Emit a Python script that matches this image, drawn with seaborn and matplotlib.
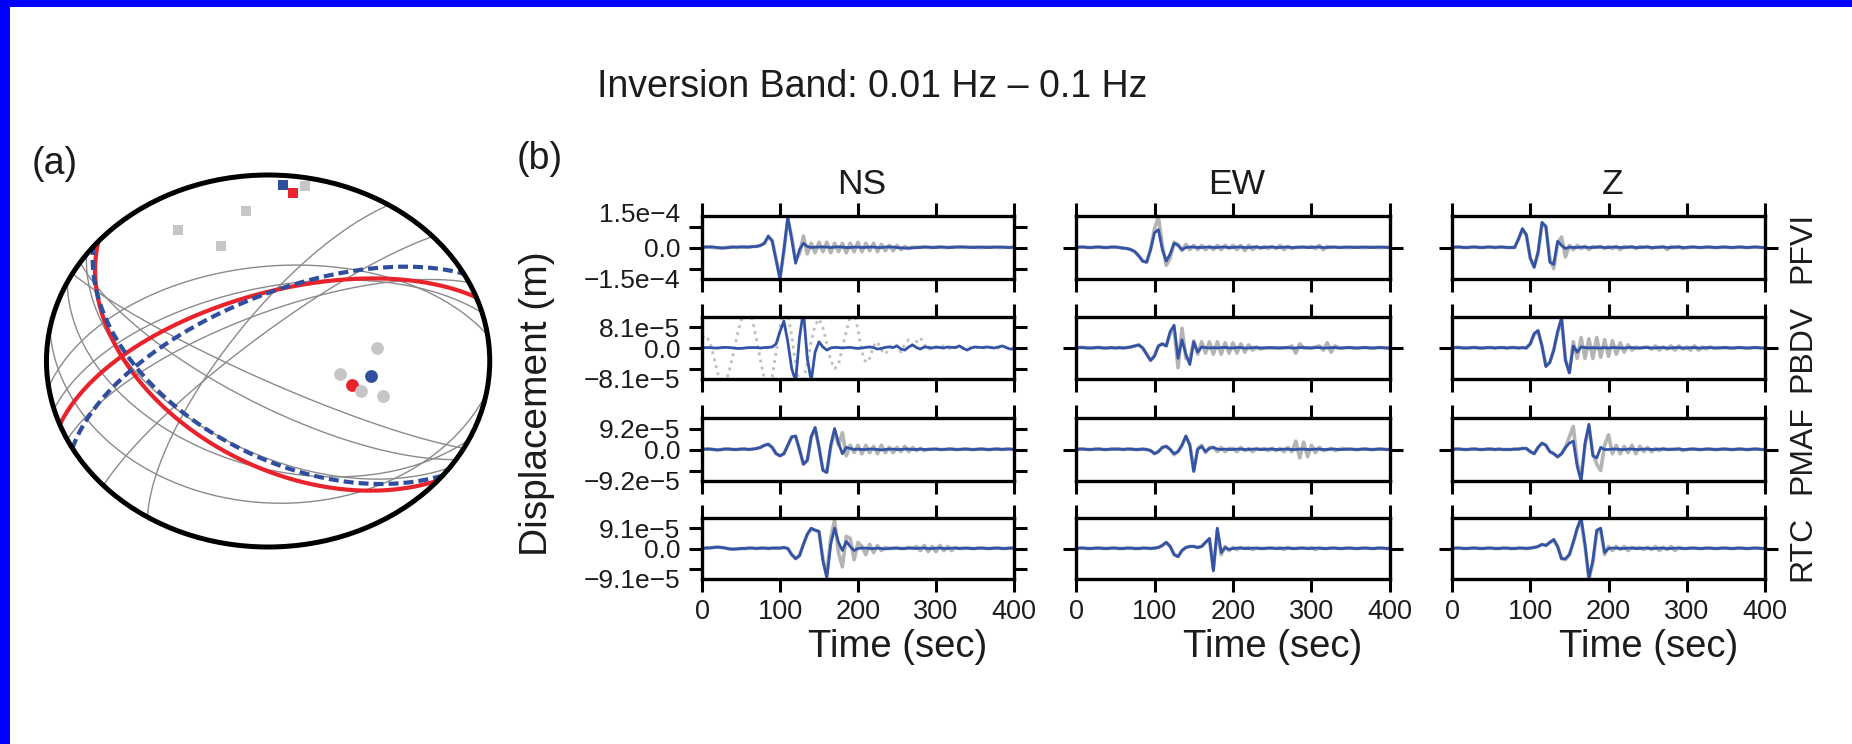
import numpy as np
import matplotlib
matplotlib.use("Agg")
import matplotlib.pyplot as plt
import seaborn as sns
from matplotlib.patches import Rectangle, Circle

sns.set_theme(style="ticks")
plt.rcParams["font.family"] = ["Liberation Sans", "DejaVu Sans"]
plt.rcParams["axes.unicode_minus"] = True

# ---------------------------------------------------------------- data
stations = ["PFVI", "PBDV", "PMAF", "RTC"]
components = ["NS", "EW", "Z"]
amplitudes = [1.5e-4, 8.1e-5, 9.2e-5, 9.1e-5]
amp_labels = ["1.5e\u22124", "8.1e\u22125", "9.2e\u22125", "9.1e\u22125"]
time_ticks = [0, 100, 200, 300, 400]
SAMPLE_STEP = 5  # s, traces sampled every 5 s from 0 to 400 s

# traces in units of the station amplitude (observed = grey, synthetic = blue)
PFVI_NS_SYN = [0, 0.02, 0.03, 0.02, 0, -0.02, -0.02, 0, 0.02, 0.02,
               0.03, 0.02, 0.02, 0.04, 0.05, 0.1, 0.2, 0.55, 0.3, -0.6,
               -1.5, -0.1, 1.45, 0.4, -0.75, -0.1, 0.2, 0.05, 0, 0.02,
               0.02, 0.03, 0.02, 0, 0.02, 0.03, 0.02, 0, 0, 0.02,
               0.02, 0, 0.01, 0.02, 0.02, 0, 0, 0.02, 0.03, 0.02,
               0, -0.02, -0.03, -0.03, -0.02, 0, 0, 0.02, 0.02, 0,
               0, 0.02, 0.02, 0, 0, 0.02, 0.02, 0.03, 0.02, 0,
               0, 0.02, 0.02, 0, 0, 0.02, 0.02, 0.02, 0, 0,
               0.02]
PFVI_NS_OBS = [0, 0.03, 0.02, 0, -0.02, -0.03, 0, 0.02, 0.03, 0,
               0.02, 0.03, 0.02, 0.05, 0.05, 0.1, 0.2, 0.5, 0.35, -0.55,
               -1.45, -0.2, 1.35, 0.5, -0.6, -0.3, 0.55, -0.3, 0.2, -0.25,
               0.25, -0.2, 0.25, -0.25, 0.2, -0.2, 0.2, -0.25, 0.2, -0.2,
               0.25, -0.2, 0.2, -0.15, 0.2, -0.2, 0.15, -0.15, 0.1, -0.15,
               0.1, -0.1, 0.05, -0.05, 0.02, 0, 0.02, 0.03, 0, 0,
               0.02, 0.03, 0, 0, 0.02, 0.02, 0.03, 0, 0, 0.02,
               0.02, 0, 0, 0.02, 0.03, 0.02, 0, 0, 0.02, 0,
               0.02]
PBDV_NS_SYN = [0, 0.02, 0.02, 0, 0, 0.02, 0.03, 0.02, 0, -0.02,
               -0.02, 0, 0.02, 0.02, 0.02, 0, 0.02, 0.03, 0.05, 0.2,
               0.8, 1.3, 0.3, -1.0, -1.6, 0.5, 1.8, -0.5, -1.6, -0.2,
               0.3, 0.05, -0.1, 0, 0.03, 0.02, 0, 0.02, 0.03, 0,
               -0.02, 0, 0.03, 0.05, 0.02, -0.05, -0.02, 0.03, 0.05, 0.02,
               0.1, -0.05, -0.1, 0.05, 0.15, 0.02, -0.05, 0.05, 0.03, 0,
               0.05, 0.02, 0, 0.05, 0.03, 0.02, 0.1, -0.02, -0.1, 0,
               0.05, 0.03, 0.02, 0.05, 0.02, 0, 0.05, 0.1, 0.02, -0.05,
               -0.05]
PBDV_NS_OBS = [0.5, 0.6, 0.3, -0.4, -1.2, -1.7, -1.7, -1.1, -0.3, 0.6,
               1.3, 1.8, 1.8, 1.3, 0.4, -0.6, -1.5, -1.8, -1.4, -0.2,
               1.0, 1.7, 1.6, 0.6, -0.8, -1.7, -1.6, -0.7, 0.3, 1.1,
               1.4, 1.0, 0.2, -0.6, -1.0, -0.8, 0.0, 0.8, 1.5, 1.7,
               0.9, -0.2, -0.7, -0.5, 0.1, 0.3, -0.1, -0.3, 0.0, 0.2,
               0.1, -0.2, 0.2, 0.4, 0.1, 0.3, 0.5, 0.2, -0.1, 0.05,
               0, 0.05, 0.1, 0, -0.05, 0.05, 0, 0, 0.05, 0,
               0, 0.05, 0, 0, 0.05, 0, 0, 0, 0.05, 0,
               0]
PMAF_NS_SYN = [0, 0.02, 0.02, 0, -0.02, 0, 0.02, 0.02, 0, 0,
               0.02, 0.02, 0, 0.02, 0.05, 0.1, 0.2, 0.25, 0.1, -0.2,
               -0.3, -0.2, 0.2, 0.6, 0.65, 0, -0.7, -0.5, 0.6, 1.05,
               0.1, -1.0, -1.1, 0.2, 1.0, 0.3, -0.2, 0.1, 0.05, 0,
               0.02, 0, 0, 0.02, 0.02, 0, -0.02, 0, 0.02, 0.02,
               0, 0, 0.02, 0.02, 0, 0, 0.02, 0, 0, 0.02,
               0.02, 0, 0, 0.02, 0.02, 0, 0, 0.02, 0.02, 0,
               0, 0.02, 0.02, 0, 0, 0.02, 0.02, 0, 0.02, 0.02,
               0]
PMAF_NS_OBS = [0, 0.03, 0.02, 0, -0.02, 0, 0.03, 0.02, 0, 0,
               0.02, 0.03, 0, 0.02, 0.05, 0.1, 0.2, 0.25, 0.1, -0.2,
               -0.3, -0.2, 0.2, 0.6, 0.6, 0, -0.7, -0.55, 0.6, 1.0,
               0.1, -0.95, -1.05, 0.1, 0.9, 0.2, 0.8, -0.3, 0.2, -0.15,
               0.2, -0.2, 0.2, -0.15, 0.15, -0.2, 0.2, -0.15, 0.1, -0.15,
               0.1, -0.1, 0.15, -0.1, 0.1, -0.05, 0.05, -0.05, 0.02, 0,
               0.02, 0, 0, 0.02, 0.03, 0, 0, 0.02, 0.02, 0,
               0, 0.02, 0.03, 0, 0, 0.02, 0.02, 0, 0.02, 0.02,
               0]
RTC_NS_SYN = [0, 0.02, 0.03, 0.05, 0.07, 0.05, 0.02, -0.02, -0.03, -0.02,
              0, 0, 0.02, 0.02, 0, 0.02, 0.02, 0, 0.02, 0.02,
              0.02, 0.05, 0.0, -0.3, -0.5, -0.35, 0.2, 0.7, 1.0, 0.9,
              0.85, -0.6, -1.45, 0.2, 1.0, 0.3, -0.1, 0.35, 0.1, -0.1,
              0, 0.02, 0.02, 0, 0, 0.02, 0, -0.02, 0, 0.02,
              0.02, 0, 0, 0.02, 0.02, 0, 0.02, 0.02, 0, 0,
              0.02, 0.02, 0, 0, 0.02, 0.02, 0, 0.02, 0.02, 0,
              0, 0.02, 0.02, 0, 0, 0.02, 0.02, 0, 0, 0.02,
              0.02]
RTC_NS_OBS = [0, 0.03, 0.03, 0.05, 0.07, 0.05, 0.02, -0.02, -0.03, -0.02,
              0, 0, 0.02, 0.02, 0, 0.02, 0.02, 0, 0.02, 0.02,
              0.02, 0.05, 0.0, -0.3, -0.5, -0.35, 0.2, 0.7, 0.95, 0.9,
              0.8, -0.5, -1.3, 0.5, 1.4, -0.2, -0.9, 0.6, 0.5, -0.55,
              0.3, 0.1, -0.3, 0.2, -0.2, 0.15, -0.1, 0.05, 0, 0,
              0.02, 0, 0, 0.05, 0, 0.1, -0.1, 0.15, -0.15, 0.1,
              -0.15, 0.15, -0.1, 0.1, -0.1, 0.05, 0, 0, 0.02, 0,
              0, 0.02, 0.02, 0, 0, 0.02, 0.02, 0, 0, 0.02,
              0.02]
PFVI_EW_SYN = [0, 0.02, 0.02, 0, 0, 0.02, 0.02, 0, 0, 0.02,
               0.02, 0, -0.03, -0.05, -0.1, -0.2, -0.4, -0.65, -0.7, -0.1,
               0.7, 0.85, -0.1, -0.65, -0.3, 0.2, 0.1, -0.1, 0, 0.02,
               0.02, 0, 0, 0.02, 0.02, 0, 0, 0.02, 0.02, 0,
               0, 0.02, 0.02, 0, 0, 0.02, 0.02, 0, 0, 0.02,
               0.02, 0, 0, 0.02, 0.02, 0, 0, 0.02, 0.02, 0,
               0, 0.02, 0.02, 0, 0, 0.02, 0.02, 0, 0, 0.02,
               0.02, 0, 0, 0.02, 0.02, 0, 0, 0.02, 0.02, 0,
               0]
PFVI_EW_OBS = [0, 0.03, 0.02, 0, 0, 0.02, 0.03, 0, 0, 0.02,
               0.02, 0, -0.03, -0.05, -0.1, -0.2, -0.4, -0.65, -0.7, -0.1,
               0.9, 1.45, 0.1, -0.85, -0.5, 0.25, 0.15, -0.15, 0.15, -0.1,
               0.1, -0.1, 0.1, -0.1, 0.05, -0.1, 0.1, -0.1, 0.1, -0.05,
               0.1, -0.1, 0.1, -0.15, 0.1, -0.1, 0.05, -0.05, 0.05, -0.05,
               0.05, -0.05, 0.1, -0.1, 0.05, -0.05, 0.02, 0, 0.02, 0,
               0.05, -0.05, 0.1, -0.1, 0.05, 0, 0.02, 0, 0.02, 0,
               0, 0.02, 0.02, 0, 0, 0.02, 0.02, 0, 0, 0.02,
               0]
PBDV_EW_SYN = [0, 0.02, 0.02, 0, 0, 0.02, 0.02, 0, 0, 0.02,
               0, 0.02, 0, 0.02, 0.05, 0.1, 0.15, 0, -0.3, -0.6,
               -0.4, 0.1, 0.2, 0.1, 0.8, 1.1, -0.5, 0.4, -0.3, -0.8,
               0.3, -0.2, 0.05, 0.02, 0, 0.02, 0, 0.02, 0.03, 0,
               0, 0.02, 0.02, 0, 0, 0.02, 0.02, 0, 0, 0.02,
               0.02, 0, 0, 0.02, 0.02, 0, 0, 0.02, 0.02, 0,
               0, 0.02, 0.02, 0, 0, 0.02, 0.02, 0, 0, 0.02,
               0.02, 0, 0, 0.02, 0.02, 0, 0, 0.02, 0.02, 0,
               0]
PBDV_EW_OBS = [0, 0.03, 0.02, 0, 0, 0.02, 0.03, 0, 0, 0.02,
               0, 0.02, 0, 0.02, 0.05, 0.1, 0.15, 0, -0.3, -0.6,
               -0.35, 0.1, 0.2, 0.1, 0.7, 0.9, -0.95, 0.95, -0.5, -0.6,
               0.35, -0.3, 0.3, -0.25, 0.3, -0.3, 0.3, -0.3, 0.25, -0.25,
               0.25, -0.25, 0.2, -0.2, 0.15, -0.1, 0.05, -0.05, 0.02, 0,
               0, 0.02, 0, 0, 0.02, 0.1, -0.25, 0.2, 0, 0.02,
               0, 0.05, 0.1, -0.1, 0.25, -0.2, 0.1, 0, 0, 0.02,
               0.02, 0, 0, 0.02, 0.02, 0, 0, 0.02, 0.02, 0,
               0]
PMAF_EW_SYN = [0, 0.02, 0.02, 0, 0, 0.02, 0.02, 0, 0, 0.02,
               0.02, 0.02, 0, 0.02, 0.02, 0, 0, 0.02, 0, -0.05,
               -0.2, -0.1, 0.1, 0.15, 0, -0.2, -0.1, 0.2, 0.65, 0.2,
               -1.05, 0.0, 0.15, -0.1, 0.05, 0.1, 0.02, 0, 0.02, 0,
               0, 0.02, 0.02, 0, 0, 0.02, 0.02, 0, 0, 0.02,
               0.02, 0, 0, 0.02, 0.02, 0, 0, 0.02, 0.02, 0,
               0, 0.02, 0.02, 0, 0, 0.02, 0.02, 0, 0, 0.02,
               0.02, 0, 0, 0.02, 0.02, 0, 0, 0.02, 0.02, 0,
               0]
PMAF_EW_OBS = [0, 0.03, 0.02, 0, 0, 0.02, 0.03, 0, 0, 0.02,
               0.02, 0.02, 0, 0.02, 0.02, 0, 0, 0.02, 0, -0.05,
               -0.2, -0.1, 0.1, 0.15, 0, -0.25, -0.1, 0.2, 0.6, 0.25,
               -1.0, 0.05, 0.2, -0.15, 0.1, 0.1, -0.1, 0.1, -0.1, 0.05,
               0.05, -0.1, 0.1, -0.05, 0.05, -0.1, 0.05, 0, 0.05, -0.05,
               0.05, -0.05, 0.05, -0.1, 0.1, -0.1, 0.4, -0.4, 0.35, -0.35,
               0.2, -0.15, 0.1, -0.05, 0, 0.05, -0.05, 0, 0.05, 0,
               0.02, 0, 0, 0.02, 0.02, 0, 0, 0.02, 0.02, 0,
               0]
RTC_EW_SYN = [0, 0.02, 0.02, 0, 0, 0.02, 0.02, 0, 0, 0.02,
              0.02, 0, 0, 0.02, 0.02, 0, 0, 0.02, 0.02, 0,
              0.02, 0.05, 0.15, 0.3, 0.1, -0.3, -0.4, -0.1, 0.05, 0.1,
              0.1, 0.05, 0.1, 0.3, 0.5, -1.1, 1.0, -0.2, 0.05, -0.05,
              0, 0.02, 0.02, 0, 0, 0.02, 0.02, 0, 0, 0.02,
              0.02, 0, 0, 0.02, 0.02, 0, 0, 0.02, 0.02, 0,
              0, 0.02, 0.02, 0, 0, 0.02, 0.02, 0, 0, 0.02,
              0.02, 0, 0, 0.02, 0.02, 0, 0, 0.02, 0.02, 0,
              0]
RTC_EW_OBS = [0, 0.03, 0.02, 0, 0, 0.02, 0.03, 0, 0, 0.02,
              0.02, 0, 0, 0.02, 0.02, 0, 0, 0.02, 0.02, 0,
              0.02, 0.05, 0.15, 0.3, 0.1, -0.3, -0.4, -0.1, 0.05, 0.1,
              0.1, 0.05, 0.1, 0.3, 0.45, -1.0, 0.9, -0.3, 0.1, -0.1,
              0.05, -0.05, 0.05, 0, 0.05, -0.05, 0.02, 0, 0, 0.02,
              0.02, 0, 0.05, -0.05, 0.05, 0, 0, 0.02, 0.02, 0,
              0.05, -0.05, 0.02, 0, 0, 0.02, 0.02, 0, 0, 0.02,
              0.02, 0, 0, 0.02, 0.02, 0, 0, 0.02, 0.02, 0,
              0]
PFVI_Z_SYN = [0, 0.02, 0.02, 0, 0, 0.02, 0.02, 0, 0, 0.02,
              0.02, 0, 0.02, 0.02, 0, 0, 0, 0.4, 0.9, 0.6,
              -0.5, -0.95, -0.2, 1.2, 1.0, -0.7, -0.8, 0.3, 0.1, -0.05,
              0.02, 0, 0, 0.02, 0.02, 0, 0, 0.02, 0.02, 0,
              0, 0.02, 0.02, 0, 0, 0.02, 0.02, 0, 0, 0.02,
              0.02, 0, 0, 0.02, 0.02, 0, 0, 0.02, 0.02, 0,
              0, 0.02, 0.02, 0, 0, 0.02, 0.02, 0, 0, 0.02,
              0.02, 0, 0, 0.02, 0.02, 0, 0, 0.02, 0.02, 0,
              0]
PFVI_Z_OBS = [0, 0.03, 0.02, 0, 0, 0.02, 0.03, 0, 0, 0.02,
              0.02, 0, 0.02, 0.02, 0, 0, 0, 0.4, 0.85, 0.6,
              -0.5, -0.9, -0.3, 1.1, 1.0, -0.5, -1.0, 0.2, 0.5, -0.45,
              0.1, -0.1, 0.1, -0.05, 0.05, -0.1, 0.05, 0, 0.05, -0.05,
              0.05, -0.05, 0.05, -0.1, 0.05, 0, 0.05, -0.05, 0.05, 0,
              0.05, -0.05, 0.02, 0, 0.05, -0.1, 0.05, 0, 0.05, -0.05,
              0, 0.02, 0.02, 0, 0, 0.02, 0.02, 0, 0, 0.02,
              0.02, 0, 0, 0.02, 0.02, 0, 0, 0.02, 0.02, 0,
              0]
PBDV_Z_SYN = [0, 0.02, 0.02, 0, 0, 0.02, 0.02, 0, 0, 0.02,
              0.02, 0, 0.02, 0.02, 0, 0.02, 0.02, 0, 0.02, 0,
              0.2, 0.7, 0.85, 0.1, -0.9, -0.7, -0.1, 0.8, 1.45, -0.6,
              -1.2, 0.1, -0.2, 0.05, 0.02, 0, 0.02, 0, 0, 0.02,
              0, 0.02, 0.02, 0, 0, 0.02, 0.02, 0, 0, 0.02,
              0.02, 0, 0, 0.02, 0.02, 0, 0, 0.02, 0.02, 0,
              0, 0.02, 0.02, 0, 0, 0.02, 0.02, 0, 0, 0.02,
              0.02, 0, 0, 0.02, 0.02, 0, 0, 0.02, 0.02, 0,
              0]
PBDV_Z_OBS = [0, 0.03, 0.02, 0, 0, 0.02, 0.03, 0, 0, 0.02,
              0.02, 0, 0.02, 0.02, 0, 0.02, 0.02, 0, 0.02, 0,
              0.2, 0.65, 0.8, 0.1, -0.85, -0.7, -0.1, 0.75, 1.4, -0.55,
              -1.2, 0.3, -0.5, 0.5, -0.5, 0.45, -0.5, 0.5, -0.45, 0.4,
              -0.4, 0.35, -0.3, 0.25, -0.2, 0.15, -0.1, 0.05, 0, 0.02,
              0.05, -0.05, 0.1, -0.1, 0.05, -0.05, 0.1, -0.1, 0.1, -0.05,
              0.05, -0.1, 0.1, -0.1, 0.05, -0.05, 0.05, 0, 0.02, 0,
              0.02, 0, 0, 0.02, 0.02, 0, 0, 0.02, 0.02, 0,
              0]
PMAF_Z_SYN = [0, 0.02, 0.02, 0, 0, 0.02, 0.02, 0, 0, 0.02,
              0.02, 0, 0.02, 0, 0, 0, 0.02, 0.02, 0.05, 0.05,
              -0.1, -0.2, 0.1, 0.3, 0.2, -0.1, -0.2, -0.35, -0.2, 0.1,
              0.3, 0.4, -0.8, -1.5, 0.3, 1.2, -0.3, -0.4, 0.1, 0,
              0, 0.02, 0.02, 0, 0, 0.02, 0.02, 0, 0, 0.02,
              0.02, 0, 0, 0.02, 0.02, 0, 0, 0.02, 0.02, 0,
              0, 0.02, 0.02, 0, 0, 0.02, 0.02, 0, 0, 0.02,
              0.02, 0, 0, 0.02, 0.02, 0, 0, 0.02, 0.02, 0,
              0]
PMAF_Z_OBS = [0, 0.03, 0.02, 0, 0, 0.02, 0.03, 0, 0, 0.02,
              0.02, 0, 0.02, 0, 0, 0, 0.02, 0.02, 0.05, 0.05,
              -0.1, -0.2, 0.1, 0.3, 0.2, -0.1, -0.2, -0.35, -0.2, 0.1,
              0.6, 1.1, -0.6, -1.35, 0.2, 1.1, -0.2, -0.7, -1.0, 0.2,
              0.7, -0.2, 0.2, -0.2, 0.15, -0.15, 0.2, -0.2, 0.15, -0.1,
              0.1, -0.1, 0.05, -0.05, 0.05, 0, 0.02, 0, 0.05, -0.05,
              0, 0.02, 0.02, 0, 0, 0.02, 0.02, 0, 0, 0.02,
              0.02, 0, 0, 0.02, 0.02, 0, 0, 0.02, 0.02, 0,
              0]
RTC_Z_SYN = [0, 0.02, 0.02, 0, 0, 0.02, 0.02, 0, 0, 0.02,
             0.02, 0, 0, 0.02, 0.02, 0, 0, 0.02, 0.02, 0,
             0.02, 0.05, 0.1, 0.2, 0.15, 0.3, 0.45, 0.1, -0.5, -0.5,
             -0.3, 0.3, 1.0, 1.5, 0.2, -1.45, -0.6, 0.9, 1.0, -0.2,
             0, 0.02, 0.02, 0, 0, 0.02, 0.02, 0, 0, 0.02,
             0.02, 0, 0, 0.02, 0.02, 0, 0, 0.02, 0.02, 0,
             0, 0.02, 0.02, 0, 0, 0.02, 0.02, 0, 0, 0.02,
             0.02, 0, 0, 0.02, 0.02, 0, 0, 0.02, 0.02, 0,
             0]
RTC_Z_OBS = [0, 0.03, 0.02, 0, 0, 0.02, 0.03, 0, 0, 0.02,
             0.02, 0, 0, 0.02, 0.02, 0, 0, 0.02, 0.02, 0,
             0.02, 0.05, 0.1, 0.2, 0.15, 0.3, 0.4, 0.1, -0.5, -0.55,
             -0.3, 0.3, 0.95, 1.4, 0.1, -1.5, -0.7, 0.8, 0.9, -0.3,
             0.1, -0.1, 0.1, -0.05, 0.1, -0.1, 0.05, 0, 0.05, -0.05,
             0.05, -0.05, 0.1, -0.1, 0.05, -0.05, 0.1, -0.1, 0.05, 0,
             0, 0.02, 0.02, 0, 0, 0.02, 0.02, 0, 0, 0.02,
             0.02, 0, 0, 0.02, 0.02, 0, 0, 0.02, 0.02, 0,
             0]

OBS = {("PFVI", "NS"): PFVI_NS_OBS, ("PFVI", "EW"): PFVI_EW_OBS, ("PFVI", "Z"): PFVI_Z_OBS,
       ("PBDV", "NS"): PBDV_NS_OBS, ("PBDV", "EW"): PBDV_EW_OBS, ("PBDV", "Z"): PBDV_Z_OBS,
       ("PMAF", "NS"): PMAF_NS_OBS, ("PMAF", "EW"): PMAF_EW_OBS, ("PMAF", "Z"): PMAF_Z_OBS,
       ("RTC", "NS"): RTC_NS_OBS, ("RTC", "EW"): RTC_EW_OBS, ("RTC", "Z"): RTC_Z_OBS}
SYN = {("PFVI", "NS"): PFVI_NS_SYN, ("PFVI", "EW"): PFVI_EW_SYN, ("PFVI", "Z"): PFVI_Z_SYN,
       ("PBDV", "NS"): PBDV_NS_SYN, ("PBDV", "EW"): PBDV_EW_SYN, ("PBDV", "Z"): PBDV_Z_SYN,
       ("PMAF", "NS"): PMAF_NS_SYN, ("PMAF", "EW"): PMAF_EW_SYN, ("PMAF", "Z"): PMAF_Z_SYN,
       ("RTC", "NS"): RTC_NS_SYN, ("RTC", "EW"): RTC_EW_SYN, ("RTC", "Z"): RTC_Z_SYN}
unused_traces = [("PBDV", "NS")]  # drawn dotted

# focal mechanism (panel a): nodal planes, strike / dip in degrees
gray_strikes = [213, 228, 100, 115, 125, 255, 245, 262, 122, 118]
gray_dips = [74, 80, 25, 44, 52, 58, 70, 48, 72, 82]
red_strikes = [130, 250]
red_dips = [48, 61]
blue_strikes = [128, 242]
blue_dips = [52, 63]
# P / T axes: trend, plunge (deg)
p_gray_trend = [330, 353, 341, 10]
p_gray_plunge = [20, 20, 35, 5]
p_blue_trend, p_blue_plunge = [4], [6]
p_red_trend, p_red_plunge = [7], [10]
t_gray_trend = [82, 102, 111, 110]
t_gray_plunge = [49, 63, 53, 44]
t_blue_trend, t_blue_plunge = [100], [51]
t_red_trend, t_red_plunge = [109], [57]

# ---------------------------------------------------------------- helpers
W, H = 1852, 744
TXT = "#1c1c1c"
BLUE = "#3353a6"
GREY = "#b4b4b4"


def fbox(x0, y0, x1, y1):
    return [x0 / W, 1 - y1 / H, (x1 - x0) / W, (y1 - y0) / H]


def project(n, e, d):
    k = 1.0 / np.sqrt(1.0 + d)
    return e * k, n * k


def great_circle(strike, dip):
    s = np.radians(strike)
    dp = np.radians(dip)
    ang = np.linspace(0, np.pi, 181)
    sv = np.array([np.cos(s), np.sin(s), 0.0])
    dv = np.array([np.cos(dp) * np.cos(s + np.pi / 2), np.cos(dp) * np.sin(s + np.pi / 2), np.sin(dp)])
    v = np.outer(np.cos(ang), sv) + np.outer(np.sin(ang), dv)
    return project(v[:, 0], v[:, 1], np.clip(v[:, 2], 0, 1))


def axis_points(trend, plunge):
    tr = np.radians(trend)
    pl = np.radians(plunge)
    return project(np.cos(pl) * np.cos(tr), np.cos(pl) * np.sin(tr), np.sin(pl))


# ---------------------------------------------------------------- figure
fig = plt.figure(figsize=(W / 100, H / 100), dpi=100)
fig.patch.set_facecolor("#0000ff")
fig.add_artist(Rectangle((10 / W, 0), 1 - 10 / W, 1 - 7 / H, transform=fig.transFigure,
                         facecolor="white", edgecolor="none", zorder=-10))

# ---- panel (a)
axa = fig.add_axes(fbox(24.3, 156.4, 511.9, 565.6))
for st, dp in zip(gray_strikes, gray_dips):
    x, y = great_circle(st, dp)
    sns.lineplot(x=x, y=y, sort=False, estimator=None, ax=axa, color="#8a8a8a", linewidth=1.0, zorder=2)
for st, dp in zip(red_strikes, red_dips):
    x, y = great_circle(st, dp)
    sns.lineplot(x=x, y=y, sort=False, estimator=None, ax=axa, color="#e8232b", linewidth=3.0, zorder=3)
for st, dp in zip(blue_strikes, blue_dips):
    x, y = great_circle(st, dp)
    sns.lineplot(x=x, y=y, sort=False, estimator=None, ax=axa, color="#2f4e9e", linewidth=3.0,
                 linestyle=(0, (2.4, 1.2)), zorder=4)


def dots(trend, plunge, color, marker, size, z):
    x, y = axis_points(np.array(trend), np.array(plunge))
    sns.scatterplot(x=x, y=y, ax=axa, color=color, marker=marker, s=size, linewidth=0, zorder=z)


dots(p_gray_trend, p_gray_plunge, "#c6c6c6", "s", 62, 5)
dots(p_blue_trend, p_blue_plunge, "#2f4e9e", "s", 62, 6)
dots(p_red_trend, p_red_plunge, "#e8232b", "s", 62, 7)
dots(t_red_trend, t_red_plunge, "#e8232b", "o", 85, 5)
dots(t_gray_trend, t_gray_plunge, "#c6c6c6", "o", 85, 6)
dots(t_blue_trend, t_blue_plunge, "#2f4e9e", "o", 85, 7)
axa.add_patch(Circle((0, 0), 1.0, fill=False, edgecolor="black", linewidth=3.6, zorder=10))
axa.set_xlim(-1.1, 1.1)
axa.set_ylim(-1.1, 1.1)
axa.set_axis_off()

# ---- panel (b)
t = np.arange(0, 401, SAMPLE_STEP)
col_x = [(702, 1014), (1076, 1390), (1452, 1765)]
row_y = [(216, 279), (317, 379), (418, 481), (518, 579)]
for r, stn in enumerate(stations):
    A = amplitudes[r]
    for c, comp in enumerate(components):
        ax = fig.add_axes(fbox(col_x[c][0], row_y[r][0], col_x[c][1], row_y[r][1]))
        obs = np.array(OBS[(stn, comp)]) * A
        syn = np.array(SYN[(stn, comp)]) * A
        if (stn, comp) in unused_traces:
            sns.lineplot(x=t, y=obs, ax=ax, color="#bdbdbd", linewidth=2.0, linestyle=(0, (1, 1.6)))
        else:
            sns.lineplot(x=t, y=obs, ax=ax, color=GREY, linewidth=2.6)
        sns.lineplot(x=t, y=syn, ax=ax, color=BLUE, linewidth=2.0)
        ax.set_xlim(0, 400)
        ax.set_ylim(-1.5 * A, 1.5 * A)
        ax.set_xticks(time_ticks)
        ax.set_xlabel("")
        ax.set_ylabel("")
        ax.tick_params(axis="x", direction="out", length=9.5, width=2.2, color="black",
                       top=True, bottom=True, labeltop=False, labelbottom=(r == 3),
                       labelsize=19.5, labelcolor=TXT, pad=5)
        ax.tick_params(axis="y", direction="out", length=9.5, width=2.2, color="black",
                       left=True, right=True, labelleft=(c == 0), labelright=False,
                       labelsize=19, labelcolor=TXT, pad=6)
        if c == 0:
            ax.set_yticks([-A, 0, A])
            ax.set_yticklabels(["\u2212" + amp_labels[r], "0.0", amp_labels[r]])
            labs = ax.get_yticklabels()
            labs[0].set_verticalalignment("top")
            if r == 0:
                labs[2].set_verticalalignment("bottom")
        else:
            ax.set_yticks([0])
            ax.set_yticklabels([])
        for sp in ax.spines.values():
            sp.set_linewidth(2.4)
            sp.set_color("black")
            sp.set_visible(True)
        if r == 0:
            fig.text((col_x[c][0] + col_x[c][1]) / 2 / W + 4 / W, 1 - 185 / H, comp,
                     ha="center", va="center", fontsize=25.5, color=TXT)
        if r == 3:
            fig.text(((col_x[c][0] + col_x[c][1]) / 2 + 40) / W, 1 - 647 / H, "Time (sec)",
                     ha="center", va="center", fontsize=27.5, color=TXT)
    fig.text(1802 / W, 1 - (row_y[r][0] + row_y[r][1]) / 2 / H, stn, rotation=90,
             ha="center", va="center", fontsize=23, color=TXT)

fig.text(537 / W, 1 - 404 / H, "Displacement (m)", rotation=90, ha="center", va="center",
         fontsize=28, color=TXT)
fig.text(872 / W, 1 - 87 / H, "Inversion Band: 0.01 Hz \u2013 0.1 Hz", ha="center", va="center",
         fontsize=27, color=TXT)
fig.text(55 / W, 1 - 164 / H, "(a)", ha="center", va="center", fontsize=27, color=TXT)
fig.text(540 / W, 1 - 159 / H, "(b)", ha="center", va="center", fontsize=27, color=TXT)

fig.savefig("out.png", dpi=100, facecolor=fig.get_facecolor())
